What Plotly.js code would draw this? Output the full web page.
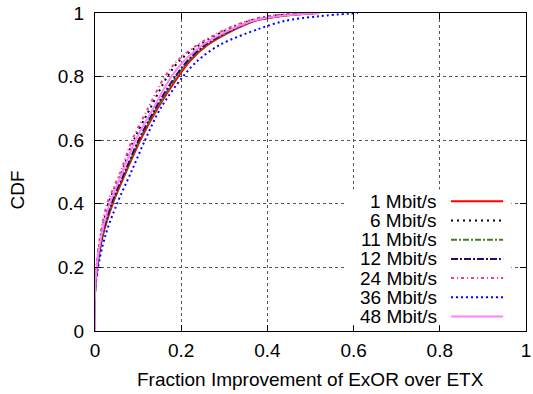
<!DOCTYPE html>
<html>
<head>
<meta charset="utf-8">
<script src="https://cdn.plot.ly/plotly-3.0.1.min.js"></script>
<style>html,body{margin:0;padding:0;background:#fff;}#chart{width:533px;height:394px;}</style>
</head>
<body>
<div id="chart"></div>
<script>
// CDF levels (y values) shared by all series
const cdfLevels = [0, 0.12, 0.2, 0.3, 0.4, 0.5, 0.6, 0.7, 0.8, 0.85, 0.9, 0.95, 0.975, 0.99, 1.0];

// Fraction improvement (x values) at each CDF level, per series
const seriesNames = ["1 Mbit/s", "6 Mbit/s", "11 Mbit/s", "12 Mbit/s", "24 Mbit/s", "36 Mbit/s", "48 Mbit/s"];
const x1  = [0, 0, 0.005, 0.018, 0.041, 0.072, 0.105, 0.145, 0.193, 0.221, 0.262, 0.327, 0.370, 0.430, 0.520];
const x6  = [0, 0, 0.004, 0.014, 0.031, 0.062, 0.090, 0.128, 0.168, 0.196, 0.243, 0.310, 0.358, 0.405, 0.490];
const x11 = [0, 0, 0.005, 0.018, 0.040, 0.071, 0.103, 0.143, 0.190, 0.218, 0.259, 0.325, 0.368, 0.428, 0.515];
const x12 = [0, 0, 0.005, 0.017, 0.038, 0.069, 0.101, 0.140, 0.186, 0.215, 0.256, 0.322, 0.366, 0.425, 0.510];
const x24 = [0, 0, 0.003, 0.012, 0.028, 0.059, 0.086, 0.123, 0.162, 0.191, 0.238, 0.305, 0.355, 0.400, 0.480];
const x36 = [0, 0, 0.007, 0.024, 0.051, 0.084, 0.116, 0.152, 0.204, 0.238, 0.290, 0.380, 0.440, 0.520, 0.610];
const x48 = [0, 0, 0.004, 0.015, 0.034, 0.064, 0.094, 0.135, 0.177, 0.207, 0.250, 0.318, 0.365, 0.425, 0.520];
const seriesX = [x1, x6, x11, x12, x24, x36, x48];

const colors = ["#ff0000", "#000000", "#3f7f1f", "#2d0a5e", "#ff3399", "#0000ff", "#ff80ff"];
const dashes = ["solid", "2px,4px", "6px,2px,2px,2px", "7px,2px,2px,2px", "3px,3px,1px,3px", "2px,3px", "solid"];

const xTicks = [0, 0.2, 0.4, 0.6, 0.8, 1];
const yTicks = [0, 0.2, 0.4, 0.6, 0.8, 1];

const FONT = "Liberation Sans, Arial, Helvetica, sans-serif";

const traces = seriesNames.map((n, i) => ({
  type: "scatter", mode: "lines", name: n,
  x: seriesX[i], y: cdfLevels,
  line: {color: colors[i], width: 2, dash: dashes[i], shape: "spline", smoothing: 0.9},
  showlegend: false
}));

// custom gnuplot-style key: text on the left, line sample on the right
const keyTop = 0.408, keyStep = 0.0604;
const shapes = [{
  type: "rect", xref: "paper", yref: "paper",
  x0: 0.58, x1: 0.966, y0: 0.018, y1: 0.445,
  fillcolor: "#ffffff", line: {width: 0}, layer: "above"
}];
const annotations = [];
seriesNames.forEach((n, i) => {
  const yy = keyTop - i * keyStep;
  annotations.push({
    xref: "paper", yref: "paper", x: 0.798, y: yy, xanchor: "right", yanchor: "middle",
    text: n, showarrow: false, font: {family: FONT, size: 19, color: "#000"}
  });
  shapes.push({
    type: "line", xref: "paper", yref: "paper", x0: 0.826, x1: 0.947, y0: yy, y1: yy,
    line: {color: colors[i], width: 2, dash: dashes[i]}, layer: "above"
  });
});
annotations.push({
  xref: "paper", yref: "paper", x: 0.5, y: -0.154, xanchor: "center", yanchor: "middle",
  text: "Fraction Improvement of ExOR over ETX", showarrow: false,
  font: {family: FONT, size: 19, color: "#000"}
});
annotations.push({
  xref: "paper", yref: "paper", x: -0.18, y: 0.443, xanchor: "center", yanchor: "middle",
  text: "CDF", textangle: -90, showarrow: false,
  font: {family: FONT, size: 19, color: "#000"}
});

const axisCommon = {
  range: [0, 1], showline: true, linecolor: "#000", linewidth: 1, mirror: "ticks",
  ticks: "inside", ticklen: 6, tickcolor: "#000", tickwidth: 1,
  showgrid: true, gridcolor: "#555", griddash: "dot", gridwidth: 1,
  zeroline: false, tickfont: {family: FONT, size: 19, color: "#000"}
};

const layout = {
  width: 533, height: 394,
  margin: {l: 95, r: 7, t: 13, b: 63},
  paper_bgcolor: "#fff", plot_bgcolor: "#fff",
  showlegend: false,
  xaxis: Object.assign({}, axisCommon, {tickvals: xTicks, ticktext: xTicks.map(String), ticklabelstandoff: 2}),
  yaxis: Object.assign({}, axisCommon, {tickvals: yTicks, ticktext: yTicks.map(String), ticklabelstandoff: 6}),
  shapes: shapes, annotations: annotations
};

Plotly.newPlot("chart", traces, layout, {staticPlot: true, displayModeBar: false});
</script>
</body>
</html>
